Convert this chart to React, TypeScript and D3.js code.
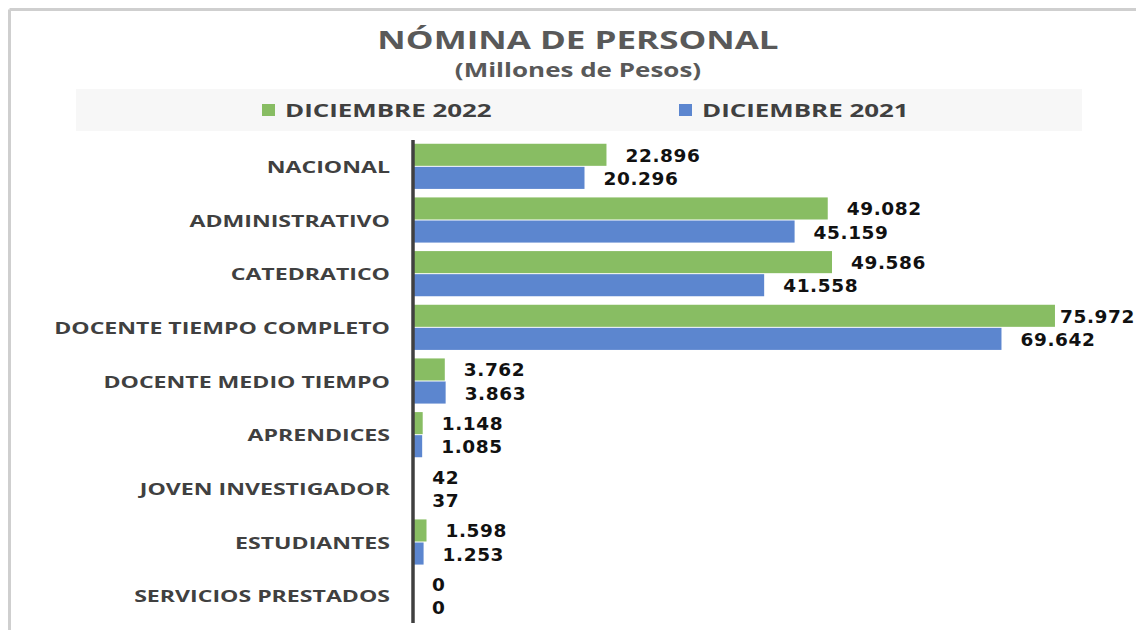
import React from "react";
import * as d3 from "d3";

const categories = [
  "NACIONAL",
  "ADMINISTRATIVO",
  "CATEDRATICO",
  "DOCENTE TIEMPO COMPLETO",
  "DOCENTE MEDIO TIEMPO",
  "APRENDICES",
  "JOVEN INVESTIGADOR",
  "ESTUDIANTES",
  "SERVICIOS PRESTADOS",
];
const dic2022 = [22896, 49082, 49586, 75972, 3762, 1148, 42, 1598, 0];
const dic2021 = [20296, 45159, 41558, 69642, 3863, 1085, 37, 1253, 0];
const seriesNames = ["DICIEMBRE 2022", "DICIEMBRE 2021"];
const seriesColors = ["#88BD63", "#5C86CF"];
const title = "NÓMINA DE PERSONAL";
const subtitle = "(Millones de Pesos)";

const W = 1136;
const H = 630;

const fmt = (v: number) => d3.format(",d")(v).replace(/,/g, ".");

const SX = 1.4;
const LABEL_FS = 18.5;
const LABEL_LS = 0.6;

function estWidth(s: string) {
  let w = 0;
  for (const ch of s) w += (ch === "." ? 0.38 : 0.696) * LABEL_FS + LABEL_LS;
  return w;
}

function Stretch({ x, y, sx = SX, anchor = "start", children, ...rest }: any) {
  return (
    <text
      transform={`translate(${x},${y}) scale(${sx},1)`}
      textAnchor={anchor}
      {...rest}
    >
      {children}
    </text>
  );
}

export default function App() {
  const y0 = d3.scaleBand<string>().domain(categories).range([140, 623]).paddingInner(0.14).paddingOuter(0.07);
  const y1 = d3.scaleBand<string>().domain(seriesNames).range([0, y0.bandwidth()]).padding(0);
  const x = d3.scaleLinear().domain([0, 80000]).range([413, 413 + 80 * 8.45]);
  const series = [dic2022, dic2021];

  return (
    <div style={{ position: "absolute", left: 0, top: 0 }}>
      <svg width={W} height={H} style={{ display: "block", background: "#fff" }}>
        {/* frame */}
        <line x1={9.5} y1={9.5} x2={W} y2={9.5} stroke="#cfcfcf" strokeWidth={3} />
        <line x1={9.5} y1={9.5} x2={9.5} y2={H} stroke="#cfcfcf" strokeWidth={3} />

        {/* title */}
        <Stretch x={578} y={49} anchor="middle" fontFamily="'Open Sans', sans-serif" fontWeight={700} fontSize={25} fill="#595959">
          {title}
        </Stretch>
        <Stretch x={578} y={77} sx={1.3} anchor="middle" fontFamily="'Open Sans', sans-serif" fontWeight={700} fontSize={20} fill="#595959">
          {subtitle}
        </Stretch>

        {/* legend */}
        <rect x={76} y={89} width={1006} height={42} fill="#f7f7f7" />
        {seriesNames.map((s, i) => {
          const lx = i === 0 ? 262 : 679;
          return (
            <g key={s}>
              <rect x={lx} y={104} width={13} height={12} fill={seriesColors[i]} />
              <Stretch x={lx + 23} y={117} fontFamily="'Open Sans', sans-serif" fontWeight={700} fontSize={18.5} fill="#404040">
                {s}
              </Stretch>
            </g>
          );
        })}

        {/* bars */}
        {categories.map((c, ci) => (
          <g key={c}>
            {series.map((vals, si) => {
              const by = (y0(c) as number) + (y1(seriesNames[si]) as number);
              const bh = y1.bandwidth();
              const v = vals[ci];
              const label = fmt(v);
              const lx = Math.min(x(v) + 19, W - 1 - estWidth(label));
              return (
                <g key={si}>
                  <rect x={x(0)} y={by} width={x(v) - x(0)} height={bh - 1} fill={seriesColors[si]} />
                  <text
                    x={lx}
                    y={by + bh / 2 + 6.5}
                    fontFamily="'DejaVu Sans', sans-serif"
                    fontWeight={700}
                    fontSize={LABEL_FS}
                    letterSpacing={LABEL_LS}
                    fill="#111"
                  >
                    {label}
                  </text>
                </g>
              );
            })}
            <Stretch
              x={390}
              y={(y0(c) as number) + y0.bandwidth() / 2 + 6}
              anchor="end"
              fontFamily="'Open Sans', sans-serif"
              fontWeight={700}
              fontSize={16.5}
              fill="#404040"
            >
              {c}
            </Stretch>
          </g>
        ))}

        {/* axis line */}
        <line x1={x(0)} y1={140} x2={x(0)} y2={623} stroke="#404040" strokeWidth={3.5} />
      </svg>
    </div>
  );
}
